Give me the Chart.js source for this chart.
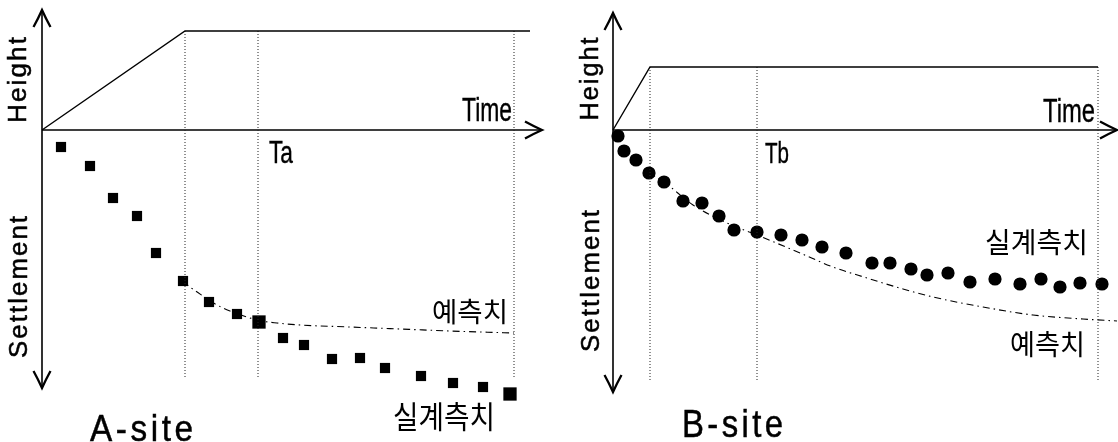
<!DOCTYPE html>
<html><head><meta charset="utf-8">
<script src="https://cdn.jsdelivr.net/npm/chart.js@4.4.1/dist/chart.umd.min.js"></script>
<style>
html,body{margin:0;padding:0;background:#fff;overflow:hidden}
#wrap{position:relative;width:1118px;height:442px;background:#fff}
canvas{position:absolute;top:0}
</style></head><body>
<div id="wrap">
<canvas id="ca" width="559" height="442" style="left:0"></canvas>
<canvas id="cb" width="559" height="442" style="left:559px"></canvas>
</div>
<script>
// ---------------- DATA (time units on x, height(+)/settlement(-) on y) ----------------
// A-site
const siteA_heightX = [0, 28.6, 97.6];
const siteA_heightY = [0, 19.8, 19.8];
const siteA_guides = [28.6, 43.2, 94.4];           // end of fill, Ta, end
const siteA_guideLabels = ['', 'Ta', ''];
const siteA_measuredX = [3.8, 9.6, 14.2, 19.0, 22.8, 28.2, 33.4, 39.0, 43.4, 48.2, 52.4, 58.0, 63.6, 68.6, 75.8, 82.2, 88.2, 93.6];
const siteA_measuredY = [-3.4, -7.2, -13.6, -17.2, -24.6, -30.2, -34.4, -36.8, -38.4, -41.6, -43.0, -45.8, -45.6, -47.6, -49.2, -50.6, -51.4, -52.8];
const siteA_predX = [28.2, 29.6, 32.2, 35.0, 37.6, 41.0, 43.4, 47.0, 51.6, 61.6, 71.6, 81.6, 94.4];
const siteA_predY = [-30.2, -31.4, -33.2, -35.0, -36.2, -37.4, -38.1, -38.6, -39.0, -39.4, -39.8, -40.2, -40.6];
// B-site
const siteB_heightX = [0, 7.4, 97.0];
const siteB_heightY = [0, 12.6, 12.6];
const siteB_guides = [7.4, 28.8, 97.0];
const siteB_guideLabels = ['', 'Tb', ''];
const siteB_measuredX = [1.0, 2.2, 4.6, 7.2, 10.2, 14.0, 17.8, 21.2, 24.2, 28.8, 33.6, 37.8, 41.8, 46.6, 51.8, 55.4, 59.6, 62.8, 67.0, 71.4, 76.4, 81.4, 85.6, 89.4, 93.4, 97.8];
const siteB_measuredY = [-1.2, -4.2, -6.0, -8.6, -10.4, -14.2, -14.6, -17.2, -20.0, -20.4, -21.0, -22.0, -23.4, -24.6, -26.6, -26.6, -27.8, -29.0, -28.6, -30.4, -29.8, -30.8, -29.8, -31.4, -30.6, -30.8];
const siteB_predX = [7.2, 10.2, 16.0, 22.8, 28.8, 37.4, 44.0, 50.8, 58.0, 64.0, 74.0, 84.0, 94.0, 100.8];
const siteB_predY = [-8.6, -10.4, -15.0, -18.6, -21.0, -24.6, -27.4, -29.6, -31.8, -33.4, -35.4, -37.0, -37.8, -38.2];
// text
const axisHeight = 'Height';
const axisSettlement = 'Settlement';
const axisTime = 'Time';
const predLabel = '예측치';
const measLabel = '실계측치';
const siteNames = ['A-site', 'B-site'];

// ---------------- drawing helpers ----------------
function label(ctx, t, cx, cy, o) {
  ctx.save();
  const kr = !!o.kr;
  const size = o.h / (kr ? 0.9 : 0.72);
  ctx.font = size.toFixed(1) + 'px ' + (kr ? '"Noto Sans CJK KR", sans-serif' : '"Liberation Sans", Arial, sans-serif');
  const ls = o.ls || 0;
  ctx.letterSpacing = ls + 'px';
  const m = ctx.measureText(t).width - ls;
  const sx = o.w / m;
  ctx.translate(cx, cy);
  if (o.rot) ctx.rotate(-Math.PI / 2);
  ctx.scale(sx, 1);
  ctx.fillStyle = '#000';
  ctx.strokeStyle = '#000';
  ctx.lineWidth = o.bold || 0;
  ctx.textAlign = 'left';
  ctx.textBaseline = kr ? 'middle' : 'alphabetic';
  ctx.fillText(t, -m / 2, kr ? 0 : o.h / 2);
  if (o.bold) ctx.strokeText(t, -m / 2, kr ? 0 : o.h / 2);
  ctx.restore();
}
function arrow(ctx, x, y, ang) {
  const L = 17, w = 8.5;
  ctx.save();
  ctx.translate(x, y);
  ctx.rotate(ang);
  ctx.beginPath();
  ctx.moveTo(-L, -w);
  ctx.quadraticCurveTo(-L * 0.45, -w * 0.4, 0, 0);
  ctx.quadraticCurveTo(-L * 0.45, w * 0.4, -L, w);
  ctx.lineWidth = 2.3;
  ctx.lineJoin = 'miter';
  ctx.strokeStyle = '#000';
  ctx.stroke();
  ctx.restore();
}

const axesPlugin = {
  id: 'axes',
  beforeDatasetsDraw(chart, args, o) {
    const { ctx, scales: { x, y } } = chart;
    const x0 = x.getPixelForValue(0), y0 = y.getPixelForValue(0);
    const yt = y.getPixelForValue(o.yTop), yb = y.getPixelForValue(o.yBottom), xe = x.getPixelForValue(o.xEnd);
    ctx.save();
    ctx.strokeStyle = '#000';
    ctx.lineWidth = 1.6;
    ctx.beginPath();
    ctx.moveTo(x0, yt + 1); ctx.lineTo(x0, yb - 1);
    ctx.moveTo(x0, y0); ctx.lineTo(xe - 1, y0);
    ctx.stroke();
    arrow(ctx, x0, yt, -Math.PI / 2);
    arrow(ctx, x0, yb, Math.PI / 2);
    arrow(ctx, xe, y0, 0);
    ctx.restore();
  }
};

const labelsPlugin = {
  id: 'labels',
  afterDraw(chart, args, o) {
    const ctx = chart.ctx;
    const off = o.offset;
    o.items.forEach(it => label(ctx, it.t, it.x - off, it.y, it));
  }
};

function makeChart(id, P) {
  const ds = [];
  ds.push({ data: P.hx.map((x, i) => ({ x, y: P.hy[i] })), showLine: true, borderColor: '#000', borderWidth: 1.4, pointRadius: 0, fill: false });
  const plateau = P.hy[P.hy.length - 1];
  P.guides.forEach(g => ds.push({
    data: [{ x: g, y: plateau }, { x: g, y: P.guideBottom }], showLine: true,
    borderColor: '#222', borderWidth: 1, borderDash: [1, 2], pointRadius: 0
  }));
  ds.push({
    data: P.px.map((x, i) => ({ x, y: P.py[i] })), showLine: true, borderColor: '#000',
    borderWidth: 1.1, borderDash: [7, 4, 1.5, 4], pointRadius: 0, cubicInterpolationMode: 'monotone'
  });
  const big = P.bigAt;
  ds.push({
    data: P.mx.map((x, i) => ({ x, y: P.my[i] })), showLine: false,
    pointStyle: P.style, backgroundColor: '#000', borderColor: '#000', borderWidth: 0,
    pointRadius: c => {
      const v = P.mx[c.dataIndex];
      return big.some(b => Math.abs(b - v) < 1.2) ? P.bigR : P.r;
    },
    pointHoverRadius: 0
  });
  return new Chart(document.getElementById(id), {
    type: 'scatter',
    data: { datasets: ds },
    options: {
      responsive: false, animation: false, devicePixelRatio: 1, events: [],
      layout: { padding: 0, autoPadding: false },
      plugins: {
        legend: { display: false }, tooltip: { enabled: false },
        axes: P.axes, labels: P.labels
      },
      scales: {
        x: { type: 'linear', min: P.xmin, max: P.xmin + 559 / 5, display: false },
        y: { type: 'linear', min: 26 - 442 / 5, max: 26, display: false }
      }
    },
    plugins: [axesPlugin, labelsPlugin]
  });
}

makeChart('ca', {
  hx: siteA_heightX, hy: siteA_heightY, guides: siteA_guides, guideBottom: -49.4,
  px: siteA_predX, py: siteA_predY, mx: siteA_measuredX, my: siteA_measuredY,
  style: 'rect', r: 7.2, bigR: 9.4, bigAt: siteA_guides.slice(1),
  xmin: -8.4,
  axes: { yTop: 24, yBottom: -51.6, xEnd: 100 },
  labels: { offset: 0, items: [
    { t: axisHeight, x: 17, y: 80, w: 86, h: 18, rot: true, ls: 2, bold: 0.5 },
    { t: axisSettlement, x: 18, y: 287, w: 142, h: 18, rot: true, ls: 2, bold: 0.5 },
    { t: axisTime, x: 487, y: 108.5, w: 50, h: 24, bold: 0.4 },
    { t: siteA_guideLabels[1], x: 281, y: 152, w: 24, h: 22, bold: 0.4 },
    { t: predLabel, x: 470, y: 311.5, w: 76, h: 25, kr: true },
    { t: measLabel, x: 444, y: 416.5, w: 102, h: 28, kr: true },
    { t: siteNames[0], x: 141.5, y: 427.5, w: 103, h: 27, ls: 4, bold: 0.5 }
  ] }
});
makeChart('cb', {
  hx: siteB_heightX, hy: siteB_heightY, guides: siteB_guides, guideBottom: -50.2,
  px: siteB_predX, py: siteB_predY, mx: siteB_measuredX, my: siteB_measuredY,
  style: 'circle', r: 6.6, bigR: 6.6, bigAt: [],
  xmin: -10.8,
  axes: { yTop: 23.4, yBottom: -52.4, xEnd: 100.8 },
  labels: { offset: 559, items: [
    { t: axisHeight, x: 589, y: 79, w: 83, h: 18, rot: true, ls: 2, bold: 0.5 },
    { t: axisSettlement, x: 590, y: 281, w: 142, h: 18, rot: true, ls: 2, bold: 0.5 },
    { t: axisTime, x: 1069, y: 110, w: 52, h: 24, bold: 0.4 },
    { t: siteB_guideLabels[1], x: 777, y: 152, w: 24, h: 21, bold: 0.4 },
    { t: measLabel, x: 1036.5, y: 242.5, w: 103, h: 26, kr: true },
    { t: predLabel, x: 1047.5, y: 344.5, w: 75, h: 26, kr: true },
    { t: siteNames[1], x: 732.5, y: 422.5, w: 101, h: 28, ls: 4, bold: 0.5 }
  ] }
});
</script>
</body></html>
